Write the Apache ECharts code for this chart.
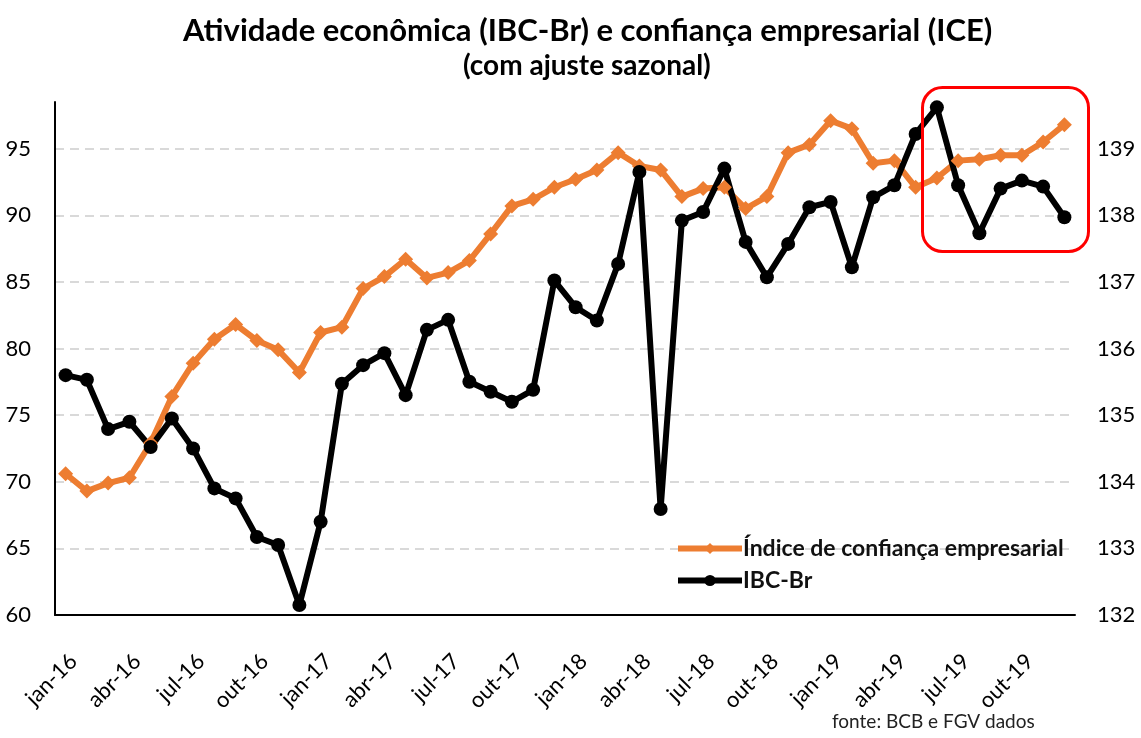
<!DOCTYPE html>
<html>
<head>
<meta charset="utf-8">
<script src="https://cdn.jsdelivr.net/npm/echarts@6/dist/echarts.min.js"></script>
<style>
  html, body { margin: 0; padding: 0; background: #fff; }
  #chart { width: 1141px; height: 738px; }
</style>
</head>
<body>
<div id="chart"></div>
<script>
// meses jan-16 .. dez-19
const months = [
  'jan-16', 'fev-16', 'mar-16', 'abr-16', 'mai-16', 'jun-16', 'jul-16', 'ago-16', 'set-16', 'out-16', 'nov-16', 'dez-16',
  'jan-17', 'fev-17', 'mar-17', 'abr-17', 'mai-17', 'jun-17', 'jul-17', 'ago-17', 'set-17', 'out-17', 'nov-17', 'dez-17',
  'jan-18', 'fev-18', 'mar-18', 'abr-18', 'mai-18', 'jun-18', 'jul-18', 'ago-18', 'set-18', 'out-18', 'nov-18', 'dez-18',
  'jan-19', 'fev-19', 'mar-19', 'abr-19', 'mai-19', 'jun-19', 'jul-19', 'ago-19', 'set-19', 'out-19', 'nov-19', 'dez-19'
];

// Índice de confiança empresarial (eixo esquerdo)
const ice = [
  70.6, 69.3, 69.9, 70.3, 72.9, 76.4, 78.9, 80.7, 81.8, 80.6, 79.9, 78.2,
  81.2, 81.6, 84.5, 85.4, 86.7, 85.3, 85.7, 86.6, 88.6, 90.7, 91.2, 92.1,
  92.7, 93.4, 94.7, 93.7, 93.4, 91.4, 92.0, 92.1, 90.5, 91.4, 94.7, 95.3,
  97.1, 96.5, 93.9, 94.1, 92.1, 92.8, 94.1, 94.2, 94.5, 94.5, 95.5, 96.8
];

// IBC-Br (eixo direito)
const ibc = [
  135.60, 135.53, 134.79, 134.90, 134.52, 134.95, 134.50, 133.90, 133.75, 133.17, 133.05, 132.15,
  133.40, 135.47, 135.75, 135.93, 135.30, 136.28, 136.43, 135.50, 135.35, 135.20, 135.38, 137.02,
  136.62, 136.42, 137.27, 138.65, 133.59, 137.92, 138.05, 138.70, 137.60, 137.07, 137.57, 138.12,
  138.20, 137.22, 138.27, 138.45, 139.22, 139.62, 138.45, 137.73, 138.40, 138.52, 138.43, 137.97
];

const leftTicks = { min: 60, max: 98.5, interval: 5 };
const rightTicks = { min: 132, max: 139.7, interval: 1 };

const FONT = 'Lato, "Open Sans", sans-serif';
const chart = echarts.init(document.getElementById('chart'));

const option = {
  animation: false,
  textStyle: { fontFamily: FONT },
  title: [
    {
      text: 'Atividade econômica (IBC-Br) e confiança empresarial (ICE)',
      left: 183,
      top: 15,
      padding: 0,
      textStyle: { fontFamily: FONT, fontSize: 31, fontWeight: 'bold', color: '#000' }
    },
    {
      text: '(com ajuste sazonal)',
      left: 463,
      top: 52,
      padding: 0,
      textStyle: { fontFamily: FONT, fontSize: 28, fontWeight: 'bold', color: '#000' }
    },
    {
      text: 'fonte: BCB e FGV dados',
      left: 832,
      top: 712,
      padding: 0,
      textStyle: { fontFamily: FONT, fontSize: 19, fontWeight: 'normal', color: '#222' }
    }
  ],
  legend: {
    orient: 'vertical',
    left: 675,
    top: 537,
    padding: 0,
    itemWidth: 64,
    itemHeight: 14,
    itemGap: 9,
    lineStyle: { width: 6 },
    textStyle: { fontFamily: FONT, fontSize: 23, fontWeight: 'bold', color: '#111', padding: [0, 0, 0, -4] },
    data: ['Índice de confiança empresarial', 'IBC-Br']
  },
  grid: { left: 55, right: 66, top: 102, bottom: 123 },
  xAxis: {
    type: 'category',
    data: months,
    boundaryGap: true,
    axisLine: { lineStyle: { color: '#000', width: 2 } },
    axisTick: { interval: 0, length: 6, lineStyle: { color: '#000', width: 2 } },
    axisLabel: {
      interval: 2,
      rotate: 45,
      margin: 35,
      verticalAlign: 'top',
      fontFamily: FONT,
      fontSize: 22,
      fontWeight: 'normal',
      color: '#000'
    },
    splitLine: { show: false }
  },
  yAxis: [
    {
      type: 'value',
      min: leftTicks.min,
      max: leftTicks.max,
      interval: leftTicks.interval,
      axisLine: { show: true, lineStyle: { color: '#000', width: 2 } },
      axisTick: { show: false },
      axisLabel: {
        showMaxLabel: false,
        margin: 24,
        fontFamily: FONT,
        fontSize: 22,
        fontWeight: 'normal',
        color: '#000'
      },
      splitLine: {
        show: true,
        showMinLine: false,
        showMaxLine: false,
        lineStyle: { color: '#d9d9d9', width: 2, type: [9, 6] }
      }
    },
    {
      type: 'value',
      min: rightTicks.min,
      max: rightTicks.max,
      interval: rightTicks.interval,
      axisLine: { show: false },
      axisTick: { show: false },
      axisLabel: {
        showMaxLabel: false,
        margin: 22,
        fontFamily: FONT,
        fontSize: 22,
        fontWeight: 'normal',
        color: '#000'
      },
      splitLine: { show: false }
    }
  ],
  series: [
    {
      name: 'Índice de confiança empresarial',
      type: 'line',
      yAxisIndex: 0,
      data: ice,
      symbol: 'diamond',
      symbolSize: 15,
      showAllSymbol: true,
      color: '#ed7d31',
      lineStyle: { width: 6, color: '#ed7d31' },
      itemStyle: { color: '#ed7d31' }
    },
    {
      name: 'IBC-Br',
      type: 'line',
      yAxisIndex: 1,
      data: ibc,
      symbol: 'circle',
      symbolSize: 14,
      showAllSymbol: true,
      color: '#000',
      lineStyle: { width: 6, color: '#000' },
      itemStyle: { color: '#000' }
    }
  ],
  graphic: [
    {
      type: 'rect',
      left: 920,
      top: 85,
      shape: { width: 166, height: 164, r: 20 },
      style: { fill: 'none', stroke: '#ff0000', lineWidth: 3 },
      z: 100
    }
  ]
};

chart.setOption(option);
</script>
</body>
</html>
